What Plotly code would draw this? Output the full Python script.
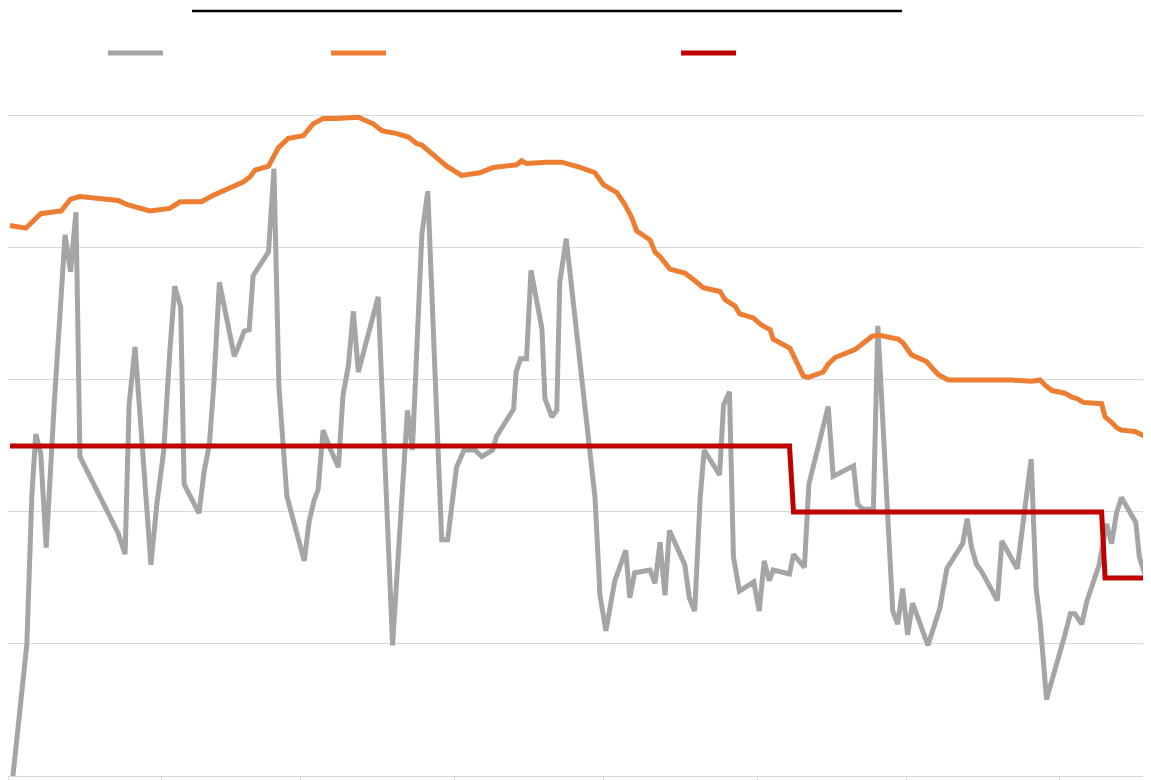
import plotly.graph_objects as go

# x values: day offset from 1 January (month starts used as ticks)
month_starts = [0, 31, 59, 90, 120, 151, 181, 212]

gray_day = [1.0, 3.8, 4.8, 5.6, 6.6, 7.7, 9.3, 10.3, 11.5, 12.6, 13.7, 14.5, 22.2, 23.6, 24.4, 25.6,
            26.9, 27.8, 28.8, 30.0, 31.4, 32.6, 33.6, 34.8, 35.5, 38.5, 39.5, 40.6, 41.5, 42.6,
            45.6, 46.4, 47.6, 48.6, 49.4, 52.5, 53.6, 54.6, 56.2, 59.7, 60.7, 61.7, 62.5, 63.5,
            64.8, 66.6, 67.5, 68.6, 69.6, 70.6, 73.3, 74.6, 77.5, 80.5, 81.5, 83.4, 84.6, 87.4,
            88.6, 90.4, 91.9, 94.1, 95.5, 97.7, 98.4, 101.9, 102.4, 103.3, 104.5, 105.4, 107.6,
            108.2, 109.6, 110.6, 111.2, 112.5, 118.3, 119.3, 120.5, 122.3, 124.5, 125.3, 126.3,
            129.4, 130.4, 131.4, 132.4, 133.3, 136.4, 137.3, 138.4, 139.5, 140.3, 143.4, 144.2,
            145.4, 146.2, 147.4, 150.3, 151.4, 152.4, 153.4, 154.2, 157.5, 158.3, 160.5, 161.4,
            165.3, 166.3, 170.4, 171.2, 172.3, 174.4, 175.3, 178.3, 179.3, 180.3, 181.3, 182.3,
            185.4, 187.8, 189.2, 192.4, 193.3, 194.2, 195.2, 196.2, 199.4, 200.3, 202.0, 203.4,
            206.2, 207.2, 208.0, 209.3, 213.0, 214.1, 215.0, 216.4, 217.4, 219.9, 221.4, 222.4,
            223.4, 224.4, 227.3, 228.0, 230.0]
gray_val = [0.0, 1.00, 2.12, 2.59, 2.44, 1.73, 2.81, 3.41, 4.10, 3.82, 4.27, 2.42, 1.84, 1.68, 2.81, 3.25,
            2.58, 2.04, 1.60, 2.06, 2.47, 3.21, 3.71, 3.55, 2.21, 1.99, 2.30, 2.52, 2.98, 3.74,
            3.18, 3.25, 3.37, 3.38, 3.79, 3.97, 4.60, 2.95, 2.12, 1.63, 1.93, 2.09, 2.17, 2.62,
            2.49, 2.34, 2.88, 3.11, 3.52, 3.06, 3.44, 3.63, 0.99, 2.77, 2.47, 4.10, 4.43, 1.79,
            1.79, 2.34, 2.47, 2.47, 2.42, 2.47, 2.57, 2.78, 3.06, 3.16, 3.16, 3.83, 3.39,
            2.86, 2.72, 2.77, 3.74, 4.07, 2.11, 1.37, 1.10, 1.48, 1.71, 1.35, 1.54,
            1.56, 1.46, 1.77, 1.37, 1.86, 1.60, 1.35, 1.25, 2.11, 2.47, 2.28, 2.81,
            2.91, 1.66, 1.40, 1.47, 1.25, 1.63, 1.48, 1.56, 1.53, 1.68, 1.58, 2.21,
            2.80, 2.27, 2.35, 2.06, 2.02, 2.02, 3.41, 1.25, 1.15, 1.42, 1.07, 1.31,
            0.99, 1.27, 1.57, 1.76, 1.95, 1.73, 1.60, 1.55, 1.33, 1.78, 1.66, 1.57,
            2.40, 1.42, 1.17, 0.58, 1.07, 1.23, 1.23, 1.15, 1.32, 1.60, 1.91, 1.76,
            1.99, 2.11, 1.92, 1.66, 1.42]

orange_day = [0.4, 3.6, 6.6, 10.7, 12.6, 14.5, 22.2, 23.9, 28.6, 32.6, 34.7, 38.5, 39.0, 41.4,
              45.4, 47.4, 48.8, 49.8, 52.5, 54.5, 56.5, 59.5, 61.5, 63.5, 66.2, 68.9, 70.6,
              73.6, 75.3, 76.3, 78.0, 80.7, 82.4, 83.4, 88.4, 91.4, 95.1, 97.8, 101.5, 102.5,
              103.5, 104.5, 108.6, 111.6, 115.3, 118.3, 120.0, 122.7, 124.3, 125.7, 126.7,
              129.4, 130.4, 131.5, 133.4, 136.4, 138.5, 140.1, 143.5, 144.5, 146.5, 147.5,
              150.2, 151.7, 153.6, 154.2, 157.6, 160.3, 161.3, 164.3, 165.3, 166.7, 170.7,
              172.4, 174.1, 175.4, 179.4, 180.4, 182.1, 185.1, 186.5, 187.5, 189.5, 192.5,
              199.9, 202.3, 206.3, 208.0, 209.0, 210.4, 213.0, 214.4, 215.4, 216.7, 220.4,
              221.1, 222.4, 223.4, 224.4, 227.1, 228.8, 230.3]
orange_val = [4.17, 4.15, 4.26, 4.28, 4.37, 4.39, 4.36, 4.33, 4.28, 4.30, 4.35, 4.35, 4.35, 4.40,
              4.46, 4.50, 4.54, 4.59, 4.62, 4.76, 4.83, 4.85, 4.94, 4.98, 4.98, 4.99, 4.99,
              4.94, 4.89, 4.88, 4.87, 4.84, 4.79, 4.78, 4.62, 4.55, 4.57, 4.61, 4.62, 4.63,
              4.66, 4.64, 4.65, 4.65, 4.61, 4.57, 4.48, 4.42, 4.33, 4.23, 4.13,
              4.06, 3.97, 3.93, 3.84, 3.81, 3.75, 3.70, 3.67, 3.61, 3.56, 3.50,
              3.47, 3.42, 3.38, 3.31, 3.24, 3.03, 3.02, 3.06, 3.12, 3.17, 3.23,
              3.28, 3.33, 3.34, 3.31, 3.28, 3.19, 3.14, 3.08, 3.04, 3.00, 3.00,
              3.00, 3.00, 2.99, 3.00, 2.96, 2.92, 2.90, 2.87, 2.86, 2.83, 2.82,
              2.72, 2.68, 2.64, 2.62, 2.61, 2.58, 2.58]

red_day = [0.4, 157.5, 158.3, 220.4, 221.1, 230.3]
red_val = [2.5, 2.5, 2.0, 2.0, 1.5, 1.5]

GRAY = "#A5A5A5"
ORANGE = "#ED7D31"
RED = "#C00000"
GRID = "#D9D9D9"

fig = go.Figure()
fig.add_trace(go.Scatter(x=gray_day, y=gray_val, mode="lines",
                         line=dict(color=GRAY, width=5), showlegend=False))
fig.add_trace(go.Scatter(x=orange_day, y=orange_val, mode="lines",
                         line=dict(color=ORANGE, width=5), showlegend=False))
fig.add_trace(go.Scatter(x=red_day, y=red_val, mode="lines",
                         line=dict(color=RED, width=5), showlegend=False))

# legend keys (text-less in the reference) and the title rule, in paper units
legend_keys = [(GRAY, 0.0881, 0.1366), (ORANGE, 0.2846, 0.3330), (RED, 0.5930, 0.6414)]
shapes = []
for col, a, b in legend_keys:
    shapes.append(dict(type="line", xref="paper", yref="paper", x0=a, x1=b, y0=1.0695, y1=1.0695,
                       line=dict(color=col, width=5)))
shapes.append(dict(type="line", xref="paper", yref="paper", x0=0.1621, x1=0.7877, y0=1.1317, y1=1.1317,
                   line=dict(color="black", width=2.5)))

fig.update_layout(
    width=1135, height=772,
    margin=dict(l=0, r=0, t=92, b=4),
    paper_bgcolor="white", plot_bgcolor="white",
    shapes=shapes,
    showlegend=False,
)
fig.update_xaxes(range=[0, 228.74], tickmode="array", tickvals=month_starts, showticklabels=False,
                 ticks="outside", ticklen=5, tickcolor=GRID, tickwidth=1.3,
                 showgrid=False, showline=True, linecolor=GRID, linewidth=1.3, zeroline=False)
fig.update_yaxes(range=[0, 5.121], dtick=1, tick0=0, showticklabels=False, showgrid=True,
                 gridcolor=GRID, gridwidth=1.3, zeroline=False, showline=False)

fig.write_html("out.html")
